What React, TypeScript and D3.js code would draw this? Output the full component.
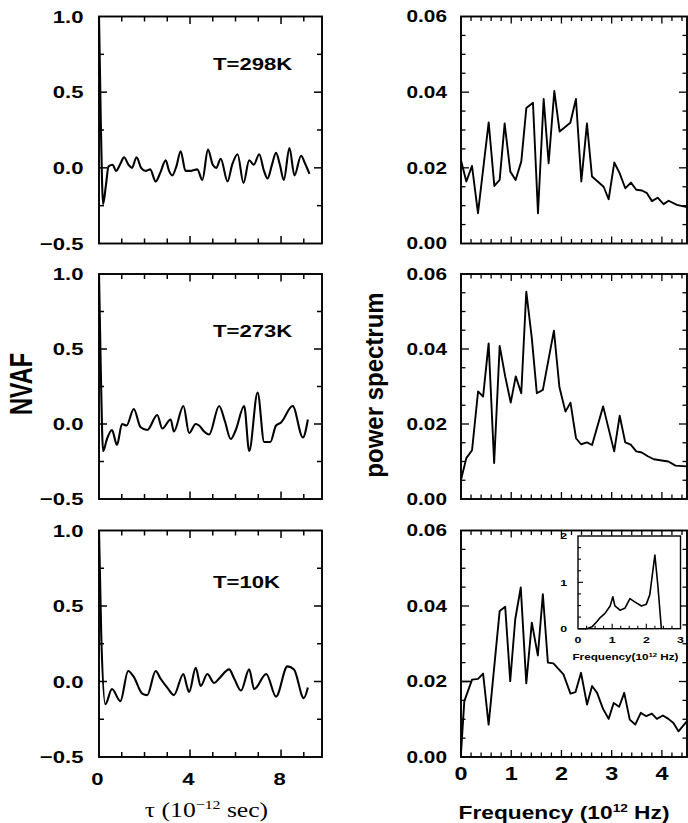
import React from "react";
import * as d3 from "d3";

// ---------- data ----------
const TEMPS = ["T=298K", "T=273K", "T=10K"];
const NVAF_TICK_LABELS = [-0.5, 0, 0.5, 1.0];
const TAU_TICK_LABELS = [0, 4, 8];
const PS_TICK_LABELS = [0, 0.02, 0.04, 0.06];
const FREQ_TICK_LABELS = [0, 1, 2, 3, 4];
const INSET_X_LABELS = [0, 1, 2, 3];
const INSET_Y_LABELS = [0, 1, 2];

type P = [number, number];

const nvaf298: P[] = [
  [0, 1.0], [0.08, 0.3], [0.18, -0.24], [0.3, -0.12], [0.42, 0.01], [0.6, 0.02], [0.75, -0.02],
  [0.95, 0.03], [1.1, 0.07], [1.3, 0.02], [1.45, 0.0], [1.65, 0.07], [1.85, 0.0], [2.05, -0.02],
  [2.25, -0.01], [2.49, -0.09], [2.7, -0.03], [2.93, 0.05], [3.08, -0.02], [3.22, -0.05], [3.4, 0.01],
  [3.59, 0.11], [3.8, -0.02], [4.05, -0.02], [4.32, -0.01], [4.54, -0.08], [4.79, 0.12], [5.0, 0.02],
  [5.15, 0.0], [5.35, 0.06], [5.65, -0.09], [5.85, 0.02], [6.09, 0.09], [6.35, -0.1], [6.6, 0.05],
  [6.8, 0.02], [7.04, 0.09], [7.25, -0.02], [7.41, -0.07], [7.6, 0.02], [7.78, 0.1], [7.95, 0.02],
  [8.12, -0.08], [8.37, 0.13], [8.59, -0.05], [8.88, 0.08], [9.05, 0.03], [9.25, -0.04],
];

const nvaf273: P[] = [
  [0, 1.0], [0.08, 0.35], [0.18, -0.18], [0.35, -0.1], [0.57, -0.04], [0.79, -0.14], [1.01, 0.0],
  [1.21, -0.01], [1.53, 0.1], [1.82, -0.02], [2.12, -0.04], [2.56, 0.06], [2.78, -0.03], [3.15, 0.03],
  [3.29, -0.05], [3.71, 0.12], [3.96, -0.06], [4.25, 0.0], [4.4, -0.01], [4.62, -0.05], [4.84, -0.07],
  [5.28, 0.12], [5.53, 0.02], [5.79, -0.1], [6.01, -0.04], [6.38, 0.12], [6.6, -0.18], [6.97, 0.21],
  [7.26, -0.12], [7.53, -0.12], [7.78, -0.01], [8.0, 0.01], [8.51, 0.12], [8.96, -0.09], [9.18, 0.03],
];

const nvaf10: P[] = [
  [0, 1.0], [0.1, 0.3], [0.28, -0.15], [0.57, -0.05], [0.94, -0.13], [1.28, 0.07], [1.53, 0.03],
  [1.9, -0.08], [2.12, -0.09], [2.49, 0.07], [2.7, 0.02], [3.0, -0.04], [3.29, -0.09], [3.71, 0.05],
  [3.86, -0.03], [3.96, -0.07], [4.25, 0.09], [4.47, -0.03], [4.76, 0.05], [5.06, -0.01], [5.28, 0.02],
  [5.72, 0.08], [5.94, 0.02], [6.24, -0.06], [6.6, 0.08], [6.82, -0.05], [7.35, 0.05], [7.78, -0.1],
  [8.28, 0.1], [8.57, 0.08], [9.0, -0.11], [9.18, -0.04],
];

const ps298: P[] = [
  [0, 0.022], [0.106, 0.0164], [0.219, 0.0205], [0.338, 0.008], [0.551, 0.032], [0.664, 0.0152],
  [0.77, 0.0168], [0.869, 0.0317], [0.982, 0.019], [1.088, 0.0168], [1.201, 0.0217], [1.301, 0.0358],
  [1.433, 0.0372], [1.533, 0.008], [1.646, 0.0382], [1.745, 0.0212], [1.858, 0.0403], [1.964, 0.0296],
  [2.177, 0.0319], [2.289, 0.0382], [2.396, 0.0164], [2.508, 0.0317], [2.608, 0.0177], [2.84, 0.015],
  [2.94, 0.0117], [3.052, 0.0214], [3.158, 0.0186], [3.271, 0.0146], [3.384, 0.0161], [3.49, 0.0142],
  [3.603, 0.014], [3.703, 0.0133], [3.802, 0.0112], [3.915, 0.0121], [4.034, 0.0104], [4.134, 0.0113],
  [4.3, 0.0102], [4.5, 0.0096],
];

const ps273: P[] = [
  [0, 0.0051], [0.106, 0.0109], [0.22, 0.013], [0.34, 0.0287], [0.44, 0.0273], [0.55, 0.0415],
  [0.66, 0.0096], [0.77, 0.0408], [0.88, 0.0327], [0.99, 0.0257], [1.09, 0.0327], [1.2, 0.0282],
  [1.3, 0.0553], [1.41, 0.0429], [1.51, 0.0282], [1.63, 0.0291], [1.85, 0.0449], [1.96, 0.0298],
  [2.08, 0.0233], [2.18, 0.0257], [2.29, 0.0162], [2.39, 0.0146], [2.51, 0.0151], [2.61, 0.0144],
  [2.83, 0.0247], [3.05, 0.0127], [3.16, 0.0222], [3.27, 0.0151], [3.38, 0.0145], [3.49, 0.0127],
  [3.6, 0.0124], [3.72, 0.0114], [3.84, 0.0106], [4.03, 0.0102], [4.13, 0.01], [4.27, 0.0089],
  [4.5, 0.0087],
];

const ps10: P[] = [
  [0, 0.001], [0.066, 0.0148], [0.22, 0.0205], [0.34, 0.0207], [0.44, 0.0221], [0.55, 0.0086],
  [0.77, 0.0387], [0.88, 0.0398], [0.98, 0.0201], [1.08, 0.0365], [1.19, 0.0449], [1.3, 0.0195],
  [1.41, 0.0356], [1.53, 0.0269], [1.63, 0.0431], [1.73, 0.025], [1.84, 0.0248], [2.04, 0.0219],
  [2.18, 0.0168], [2.28, 0.0172], [2.39, 0.0223], [2.51, 0.0139], [2.61, 0.0188], [2.71, 0.017],
  [2.83, 0.0127], [2.94, 0.0101], [3.04, 0.0143], [3.15, 0.0133], [3.25, 0.017], [3.36, 0.0099],
  [3.47, 0.0086], [3.58, 0.0117], [3.69, 0.0108], [3.8, 0.0115], [3.9, 0.0101], [4.02, 0.011],
  [4.13, 0.0101], [4.23, 0.009], [4.33, 0.0068], [4.5, 0.0095],
];
const ps10Start: P[] = [[0, 0.02], [0.2, 0.02]];

const inset10: P[] = [
  [0, 0], [0.26, 0], [0.41, 0.04], [0.55, 0.15], [0.65, 0.24], [0.79, 0.33], [0.94, 0.49],
  [1.02, 0.69], [1.08, 0.49], [1.23, 0.4], [1.37, 0.44], [1.52, 0.65], [1.66, 0.58], [1.86, 0.49],
  [2.0, 0.53], [2.1, 0.73], [2.25, 1.59], [2.34, 0.91], [2.44, 0],
];

const NVAF_SETS = [nvaf298, nvaf273, nvaf10];
const PS_SETS = [ps298, ps273, ps10];

// ---------- layout ----------
const W = 688;
const H = 823;
const LX: [number, number] = [99, 322];
const RX: [number, number] = [461, 687];
const ROWS: [number, number][] = [
  [16.5, 243.5],
  [274, 499],
  [530.5, 757],
];
const SANS = "'Liberation Sans', Arial, Helvetica, sans-serif";
const SERIF = "'Liberation Serif', 'Times New Roman', serif";
const SX = 1.3;
const TICK_W = 1.5;

function ST(props: {
  x: number; y: number; anchor?: string; size: number; sx?: number; rot?: boolean;
  weight?: string; family?: string; children: any;
}) {
  const { x, y, anchor = "start", size, sx = SX, rot = false, weight = "bold", family = SANS, children } = props;
  return (
    <text
      transform={`translate(${x},${y}) scale(${sx},1)${rot ? " rotate(-90)" : ""}`}
      textAnchor={anchor}
      fontSize={size}
      fontWeight={weight}
      fontFamily={family}
      fill="#000"
    >
      {children}
    </text>
  );
}

const near = (v: number, step: number) => Math.abs(v / step - Math.round(v / step)) < 1e-6;

function LeftPanel({ row }: { row: number }) {
  const [t, b] = ROWS[row];
  const x = d3.scaleLinear().domain([0, 9.8]).range(LX);
  const y = d3.scaleLinear().domain([-0.5, 1]).range([b, t]);
  const line = d3.line<P>().x((d) => x(d[0])).y((d) => y(d[1])).curve(d3.curveMonotoneX);
  const xt = d3.range(1, 10);
  const yt = d3.range(-0.25, 0.99, 0.25);
  return (
    <g>
      {xt.map((v) => {
        const len = v % 4 === 0 ? 7.5 : 5;
        return (
          <g key={"x" + v}>
            <line x1={x(v)} x2={x(v)} y1={b} y2={b - len} stroke="#000" strokeWidth={TICK_W} />
            <line x1={x(v)} x2={x(v)} y1={t} y2={t + len} stroke="#000" strokeWidth={TICK_W} />
          </g>
        );
      })}
      {yt.map((v) => {
        const len = near(v, 0.5) ? 8 : 5;
        return (
          <g key={"y" + v}>
            <line x1={LX[0]} x2={LX[0] + len} y1={y(v)} y2={y(v)} stroke="#000" strokeWidth={TICK_W} />
            <line x1={LX[1]} x2={LX[1] - len} y1={y(v)} y2={y(v)} stroke="#000" strokeWidth={TICK_W} />
          </g>
        );
      })}
      <path d={line(NVAF_SETS[row]) || ""} fill="none" stroke="#000" strokeWidth={2.1} strokeLinejoin="round" />
      <rect x={LX[0]} y={t} width={LX[1] - LX[0]} height={b - t} fill="none" stroke="#000" strokeWidth={1.9} />
      {NVAF_TICK_LABELS.map((v) => (
        <ST key={"yl" + v} x={83.5} y={y(v) + 6} anchor="end" size={17}>
          {(v < 0 ? "\u2212" : "") + Math.abs(v).toFixed(1)}
        </ST>
      ))}
      <ST x={213} y={t + [53, 63, 57.5][row]} size={17}>
        {TEMPS[row]}
      </ST>
      {row === 2 &&
        TAU_TICK_LABELS.map((v) => (
          <ST key={"xl" + v} x={x(v) - 1.5} y={785} anchor="middle" size={17}>
            {String(v)}
          </ST>
        ))}
    </g>
  );
}

function RightPanel({ row }: { row: number }) {
  const [t, b] = ROWS[row];
  const x = d3.scaleLinear().domain([0, 4.5]).range(RX);
  const y = d3.scaleLinear().domain([0, 0.06]).range([b, t]);
  const line = d3.line<P>().x((d) => x(d[0])).y((d) => y(d[1]));
  const xt = d3.range(0.2, 4.45, 0.2);
  const yt = d3.range(0.005, 0.0599, 0.005);
  return (
    <g>
      {xt.map((v, i) => {
        const len = near(v, 1) ? 7 : 4.5;
        return (
          <g key={"x" + i}>
            <line x1={x(v)} x2={x(v)} y1={b} y2={b - len} stroke="#000" strokeWidth={1.3} />
            <line x1={x(v)} x2={x(v)} y1={t} y2={t + len} stroke="#000" strokeWidth={1.3} />
          </g>
        );
      })}
      {yt.map((v, i) => {
        const len = near(v, 0.02) ? 8 : 4.5;
        return (
          <g key={"y" + i}>
            <line x1={RX[0]} x2={RX[0] + len} y1={y(v)} y2={y(v)} stroke="#000" strokeWidth={1.3} />
            <line x1={RX[1]} x2={RX[1] - len} y1={y(v)} y2={y(v)} stroke="#000" strokeWidth={1.3} />
          </g>
        );
      })}
      <path d={line(PS_SETS[row]) || ""} fill="none" stroke="#000" strokeWidth={1.9} strokeLinejoin="round" />
      {row === 2 && (
        <path d={line(ps10Start) || ""} fill="none" stroke="#000" strokeWidth={1.6} />
      )}
      <rect x={RX[0]} y={t} width={RX[1] - RX[0]} height={b - t} fill="none" stroke="#000" strokeWidth={1.9} />
      {PS_TICK_LABELS.map((v) => (
        <ST key={"yl" + v} x={447} y={y(v) + 5.8} anchor="end" size={16}>
          {v.toFixed(2)}
        </ST>
      ))}
      {row === 2 &&
        FREQ_TICK_LABELS.map((v) => (
          <ST key={"xl" + v} x={x(v)} y={780} anchor="middle" size={18}>
            {String(v)}
          </ST>
        ))}
    </g>
  );
}

function Inset() {
  const x = d3.scaleLinear().domain([0, 3]).range([578, 680.5]);
  const y = d3.scaleLinear().domain([0, 2]).range([628.7, 536]);
  const line = d3.line<P>().x((d) => x(d[0])).y((d) => y(d[1]));
  const xt = d3.range(0.25, 2.9, 0.25);
  const yt = d3.range(0.25, 1.9, 0.25);
  return (
    <g>
      <rect x={578} y={536} width={102.5} height={92.7} fill="#fff" stroke="none" />
      {xt.map((v, i) => {
        const len = near(v, 1) ? 5 : 3;
        return <line key={"x" + i} x1={x(v)} x2={x(v)} y1={628.7} y2={628.7 - len} stroke="#000" strokeWidth={1.1} />;
      })}
      {yt.map((v, i) => {
        const len = near(v, 1) ? 5 : 3;
        return <line key={"y" + i} x1={578} x2={578 + len} y1={y(v)} y2={y(v)} stroke="#000" strokeWidth={1.1} />;
      })}
      <path d={line(inset10) || ""} fill="none" stroke="#000" strokeWidth={1.6} strokeLinejoin="round" />
      <rect x={578} y={536} width={102.5} height={92.7} fill="none" stroke="#000" strokeWidth={1.4} />
      {INSET_X_LABELS.map((v) => (
        <ST key={"ixl" + v} x={x(v)} y={643} anchor="middle" size={9.5}>
          {String(v)}
        </ST>
      ))}
      {INSET_Y_LABELS.map((v) => (
        <ST key={"iyl" + v} x={567} y={y(v) + 3.4} anchor="end" size={9.5}>
          {String(v)}
        </ST>
      ))}
      <ST x={625.5} y={660} anchor="middle" size={9}>
        Frequency(10
        <tspan dy={-3.5} fontSize={6}>12</tspan>
        <tspan dy={3.5} fontSize={9}> Hz)</tspan>
      </ST>
    </g>
  );
}

export default function App() {
  return (
    <svg
      width={W}
      height={H}
      viewBox={`0 0 ${W} ${H}`}
      style={{ position: "absolute", left: 0, top: 0, background: "#fff" }}
    >
      <rect x={0} y={0} width={W} height={H} fill="#fff" />
      {[0, 1, 2].map((r) => (
        <LeftPanel key={"l" + r} row={r} />
      ))}
      {[0, 1, 2].map((r) => (
        <RightPanel key={"r" + r} row={r} />
      ))}
      <Inset />
      <ST x={32} y={384} anchor="middle" size={23.5} rot>
        NVAF
      </ST>
      <ST x={382.5} y={385} anchor="middle" size={24} sx={1.1} rot>
        power spectrum
      </ST>
      <ST x={206.5} y={817} anchor="middle" size={21} sx={1.22} weight="normal" family={SERIF}>
        τ (10
        <tspan dy={-8} fontSize={13}>−12</tspan>
        <tspan dy={8} fontSize={21}> sec)</tspan>
      </ST>
      <ST x={564} y={819} anchor="middle" size={17.5}>
        Frequency (10
        <tspan dy={-7} fontSize={10.5}>12</tspan>
        <tspan dy={7} fontSize={17.5}> Hz)</tspan>
      </ST>
    </svg>
  );
}
